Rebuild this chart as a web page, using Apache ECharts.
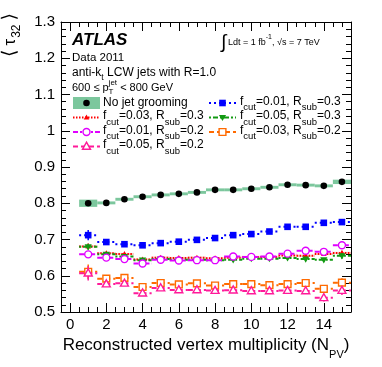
<!DOCTYPE html>
<html lang="en">
<head>
<meta charset="UTF-8">
<title>tau32 vs NPV</title>
<script src="https://cdn.jsdelivr.net/npm/echarts@6.0.0/dist/echarts.min.js"></script>
<style>html,body{margin:0;padding:0;background:#fff}#main{width:382px;height:367px}</style>
</head>
<body>
<div id="main"></div>
<script type="text/javascript">
// number of reconstructed vertices (bin centres)
var npv = [1, 2, 3, 4, 5, 6, 7, 8, 9, 10, 11, 12, 13, 14, 15];

// no grooming: mean tau32 and systematic band half-height
var noGroom    = [0.800, 0.801, 0.811, 0.818, 0.823, 0.826, 0.830, 0.837, 0.837, 0.840, 0.844, 0.851, 0.850, 0.848, 0.859];
var noGroomSys = [0.010, 0.004, 0.004, 0.004, 0.004, 0.004, 0.004, 0.004, 0.004, 0.004, 0.004, 0.004, 0.004, 0.004, 0.006];

// trimmed jets, values and stat errors
var f001r03    = [0.712, 0.693, 0.687, 0.684, 0.690, 0.694, 0.699, 0.704, 0.712, 0.715, 0.722, 0.735, 0.735, 0.746, 0.748];
var f001r03Err = [0.014, 0.003, 0.003, 0.003, 0.003, 0.003, 0.003, 0.003, 0.003, 0.003, 0.003, 0.003, 0.003, 0.004, 0.005];
var f003r03    = [0.681, 0.662, 0.660, 0.645, 0.650, 0.649, 0.650, 0.648, 0.650, 0.652, 0.652, 0.656, 0.655, 0.660, 0.663];
var f003r03Err = [0.008, 0.003, 0.003, 0.003, 0.003, 0.003, 0.003, 0.003, 0.003, 0.003, 0.003, 0.003, 0.003, 0.004, 0.006];
var f005r03    = [0.680, 0.659, 0.653, 0.643, 0.646, 0.644, 0.644, 0.643, 0.644, 0.647, 0.647, 0.649, 0.646, 0.644, 0.655];
var f005r03Err = [0.008, 0.003, 0.003, 0.003, 0.003, 0.003, 0.003, 0.003, 0.003, 0.003, 0.003, 0.003, 0.003, 0.004, 0.008];
var f001r02    = [0.659, 0.650, 0.646, 0.634, 0.644, 0.642, 0.643, 0.643, 0.653, 0.652, 0.653, 0.661, 0.669, 0.666, 0.684];
var f001r02Err = [0.010, 0.003, 0.003, 0.003, 0.003, 0.003, 0.003, 0.003, 0.003, 0.003, 0.003, 0.003, 0.003, 0.004, 0.008];
var f003r02    = [0.611, 0.592, 0.594, 0.569, 0.580, 0.576, 0.579, 0.573, 0.577, 0.577, 0.574, 0.577, 0.580, 0.564, 0.581];
var f003r02Err = [0.020, 0.004, 0.004, 0.004, 0.004, 0.004, 0.004, 0.004, 0.004, 0.004, 0.004, 0.004, 0.004, 0.008, 0.012];
var f005r02    = [0.607, 0.577, 0.579, 0.552, 0.566, 0.561, 0.561, 0.559, 0.560, 0.558, 0.558, 0.559, 0.558, 0.539, 0.559];
var f005r02Err = [0.020, 0.004, 0.004, 0.004, 0.004, 0.004, 0.004, 0.004, 0.004, 0.004, 0.004, 0.004, 0.004, 0.010, 0.012];

// axis ticks
var xMajorTicks = [0, 2, 4, 6, 8, 10, 12, 14];
var xMinorTicks = [0.5, 1, 1.5, 2.5, 3, 3.5, 4.5, 5, 5.5, 6.5, 7, 7.5, 8.5, 9, 9.5, 10.5, 11, 11.5, 12.5, 13, 13.5, 14.5, 15];

var FONT = 'Liberation Sans, Arial, Helvetica, sans-serif';

// "a_{b}" -> rich text tokens
function rt(m) {
    var out = '', last = 0, re = /([_^])\{([^}]*)\}/g, r;
    while ((r = re.exec(m))) {
        if (r.index > last) out += '{a|' + m.slice(last, r.index) + '}';
        out += '{' + (r[1] === '_' ? 's' : 'p') + '|' + r[2] + '}';
        last = re.lastIndex;
    }
    if (last < m.length) out += '{a|' + m.slice(last) + '}';
    return out;
}
// rich styles: fm main size, fs script size, dSub / dSup offsets of centres
function rs(fm, fs, dSub, dSup, extra) {
    var up = Math.max(0, dSup + fs / 2 - fm / 2);
    var base = {fontFamily: FONT, color: '#000', fill: '#000', verticalAlign: 'top'};
    var a = Object.assign({}, base, extra || {}, {fontSize: fm, padding: [up, 0, 0, 0]});
    var s = Object.assign({}, base, {fontSize: fs, padding: [up + fm / 2 + dSub - fs / 2, 0, 0, 0]});
    var p = Object.assign({}, base, {fontSize: fs, padding: [up + fm / 2 - dSup - fs / 2, 0, 0, 0]});
    return {rich: {a: a, s: s, p: p}, up: up};
}
function label(x, yc, markup, fm, fs, dSub, dSup, extra) {
    var r = rs(fm, fs, dSub, dSup, extra);
    return {type: 'text', x: x, y: yc - r.up - fm / 2, silent: true,
        style: {text: rt(markup), rich: r.rich, align: 'left', verticalAlign: 'top', fontFamily: FONT, fontSize: fm}};
}

function drawMarker(kind, color, cx, cy) {
    if (kind === 'dot') return {type: 'circle', shape: {cx: cx, cy: cy, r: 3.3}, style: {fill: color}};
    if (kind === 'square') return {type: 'rect', shape: {x: cx - 3.3, y: cy - 3.3, width: 6.6, height: 6.6}, style: {fill: color}};
    if (kind === 'osquare') return {type: 'rect', shape: {x: cx - 3.4, y: cy - 3.4, width: 6.8, height: 6.8}, style: {fill: '#fff', stroke: color, lineWidth: 1.4}};
    if (kind === 'ocircle') return {type: 'circle', shape: {cx: cx, cy: cy, r: 3.5}, style: {fill: '#fff', stroke: color, lineWidth: 1.4}};
    if (kind === 'tri') return {type: 'polygon', shape: {points: [[cx, cy - 3], [cx + 2.8, cy + 2], [cx - 2.8, cy + 2]]}, style: {fill: color}};
    if (kind === 'tridown') return {type: 'polygon', shape: {points: [[cx, cy + 3.6], [cx + 3.6, cy - 2.6], [cx - 3.6, cy - 2.6]]}, style: {fill: color}};
    return {type: 'polygon', shape: {points: [[cx, cy - 4.3], [cx + 4, cy + 2.8], [cx - 4, cy + 2.8]]}, style: {fill: '#fff', stroke: color, lineWidth: 1.4}};
}

function bandRender(color, markerKind) {
    return function (params, api) {
        var x = api.value(0), y = api.value(1), e = api.value(2);
        var tl = api.coord([x - 0.5, y + e]), br = api.coord([x + 0.5, y - e]);
        var c = api.coord([x, y]);
        var ch = [{type: 'rect', shape: {x: tl[0], y: tl[1], width: br[0] - tl[0], height: br[1] - tl[1]}, style: {fill: color}}];
        if (markerKind) ch.push(drawMarker(markerKind, '#000', c[0], c[1]));
        return {type: 'group', children: ch};
    };
}

function groomRender(st) {
    return function (params, api) {
        var x = api.value(0), y = api.value(1), e = api.value(2);
        var a = api.coord([x - 0.5, y]), b = api.coord([x + 0.5, y]);
        var c = api.coord([x, y]);
        var lo = api.coord([x, y - e]), hi = api.coord([x, y + e]);
        return {type: 'group', children: [
            {type: 'line', shape: {x1: a[0], y1: a[1], x2: b[0], y2: b[1]}, style: {stroke: st.color, lineWidth: 2, lineDash: st.dash}},
            {type: 'line', shape: {x1: lo[0], y1: lo[1], x2: hi[0], y2: hi[1]}, style: {stroke: st.color, lineWidth: 1.5}},
            drawMarker(st.marker, st.color, c[0], c[1])
        ]};
    };
}

function pts(vals, errs) {
    return npv.map(function (x, i) { return [x, vals[i], errs[i]]; });
}

var groomed = [
    {name: 'f_{cut}=0.01, R_{sub}=0.3', vals: f001r03, errs: f001r03Err, color: '#0000ff', marker: 'square', dash: [2, 3], col: 1, row: 0},
    {name: 'f_{cut}=0.03, R_{sub}=0.3', vals: f003r03, errs: f003r03Err, color: '#ff0000', marker: 'tri', dash: [1.5, 1.5], col: 0, row: 1},
    {name: 'f_{cut}=0.05, R_{sub}=0.3', vals: f005r03, errs: f005r03Err, color: '#129a12', marker: 'tridown', dash: [2, 2, 5, 2], col: 1, row: 1},
    {name: 'f_{cut}=0.01, R_{sub}=0.2', vals: f001r02, errs: f001r02Err, color: '#e000ff', marker: 'ocircle', dash: [5, 2, 2, 2], col: 0, row: 2},
    {name: 'f_{cut}=0.03, R_{sub}=0.2', vals: f003r02, errs: f003r02Err, color: '#ff6a00', marker: 'osquare', dash: [5, 3], col: 1, row: 2},
    {name: 'f_{cut}=0.05, R_{sub}=0.2', vals: f005r02, errs: f005r02Err, color: '#ff1a9a', marker: 'otri', dash: [5, 3], col: 0, row: 3}
];

var series = [
    {type: 'custom', name: 'No jet grooming', data: pts(noGroom, noGroomSys), renderItem: bandRender('#7cc79d', 'dot'), xAxisIndex: 0, yAxisIndex: 0},
    {type: 'custom', name: 'red band', data: pts(f003r03, noGroomSys.map(function () { return 0.003; })), renderItem: bandRender('rgba(240,150,140,0.45)'), xAxisIndex: 0, yAxisIndex: 0}
];
groomed.forEach(function (g) {
    series.push({type: 'custom', name: g.name, data: pts(g.vals, g.errs), renderItem: groomRender(g), xAxisIndex: 0, yAxisIndex: 0});
});

// legend drawn with graphic elements
var rowY = [103, 117.5, 132, 146.5];
var colX = [[73, 100, 103], [209, 236, 240]];
var graphics = [];
graphics.push({type: 'rect', shape: {x: 73, y: 97, width: 27, height: 12}, style: {fill: '#7cc79d'}});
graphics.push(drawMarker('dot', '#000', 86.5, 103));
graphics.push(label(103, 103, 'No jet grooming', 12, 9, 5, 0));
groomed.forEach(function (g) {
    var c = colX[g.col], y = rowY[g.row];
    graphics.push({type: 'line', shape: {x1: c[0], y1: y, x2: c[1], y2: y}, style: {stroke: g.color, lineWidth: 2, lineDash: g.dash}});
    graphics.push(drawMarker(g.marker, g.color, (c[0] + c[1]) / 2, y));
    graphics.push(label(c[2], y - 1.5, g.name, 12, 9.5, 6, 0));
});

// annotations
graphics.push({type: 'text', x: 72, y: 40.5, style: {text: 'ATLAS', fontFamily: FONT, fontSize: 17, fontWeight: 'bold', fontStyle: 'italic', fill: '#000', verticalAlign: 'middle'}});
graphics.push(label(72, 57.5, 'Data 2011', 11.5, 8, 4, 5));
graphics.push(label(72, 72.5, 'anti-k_{t} LCW jets with R=1.0', 12, 8.5, 4.5, 5));
graphics.push(label(72, 88, '600 \u2264 p^{jet} < 800 GeV', 11, 8, 4, 5.5));
var ctx = document.createElement('canvas').getContext('2d');
ctx.font = '11px ' + FONT;
graphics.push(label(72 + ctx.measureText('600 \u2264 p').width, 88, '_{T}', 11, 8, 3.5, 5));
graphics.push({type: 'text', x: 221, y: 42.5, style: {text: '\u222b', fontFamily: FONT, fontSize: 19, fill: '#000', verticalAlign: 'middle'}});
graphics.push(label(228, 42.5, 'Ldt = 1 fb^{-1}, \u221as = 7 TeV', 9, 7, 4, 5));
// y title
graphics.push({type: 'text', x: 12, y: 35, rotation: Math.PI / 2,
    style: {text: '{b|\u27e8}{t|\u03c4}{s|32}{b|\u27e9}', align: 'center', verticalAlign: 'middle', fontFamily: FONT, fontSize: 17,
        rich: {
            b: {fontFamily: 'DejaVu Sans', fontSize: 19, fill: '#000', verticalAlign: 'top', padding: [0, 3, 0, 3]},
            t: {fontFamily: FONT, fontSize: 17, fill: '#000', verticalAlign: 'top', padding: [1, 1, 0, 1]},
            s: {fontFamily: FONT, fontSize: 12, fill: '#000', verticalAlign: 'top', padding: [10, 1, 0, 0]}
        }}});

function xAx(pos, ticks, len, main) {
    return {
        type: 'value', position: pos, min: -0.5, max: 15.5,
        axisLine: {show: main, onZero: false, lineStyle: {color: '#000', width: 1}},
        axisTick: {show: true, inside: true, length: len, customValues: ticks, lineStyle: {color: '#000'}},
        axisLabel: main && pos === 'bottom' ? {customValues: xMajorTicks, fontSize: 15, color: '#000', fontFamily: FONT, margin: 5} : {show: false},
        splitLine: {show: false}
    };
}
function yAx(pos) {
    return {
        type: 'value', position: pos, min: 0.5, max: 1.3, interval: 0.1,
        axisLine: {show: true, onZero: false, lineStyle: {color: '#000', width: 1}},
        axisTick: {show: true, inside: true, length: 9, lineStyle: {color: '#000'}},
        minorTick: {show: true, splitNumber: 5, length: 5, lineStyle: {color: '#000'}},
        axisLabel: pos === 'left' ? {fontSize: 15, color: '#000', fontFamily: FONT, margin: 6} : {show: false},
        splitLine: {show: false}, minorSplitLine: {show: false}
    };
}

var xTitle = rs(17, 11, 10, 0);
var mainX = xAx('bottom', xMajorTicks, 9, true);
mainX.name = rt('Reconstructed vertex multiplicity (N_{PV})');
mainX.nameLocation = 'middle';
mainX.nameGap = 22;
mainX.nameTextStyle = {fontFamily: FONT, fontSize: 17, color: '#000', rich: xTitle.rich};

var myChart = echarts.init(document.getElementById('main'));
myChart.setOption({
    animation: false,
    textStyle: {fontFamily: FONT},
    grid: {left: 61, right: 31, top: 22, bottom: 55, containLabel: false, outerBoundsMode: 'none'},
    xAxis: [mainX, xAx('bottom', xMinorTicks, 5, false), xAx('top', xMajorTicks, 9, true), xAx('top', xMinorTicks, 5, false)],
    yAxis: [yAx('left'), yAx('right')],
    graphic: graphics,
    series: series
});
</script>
</body>
</html>
